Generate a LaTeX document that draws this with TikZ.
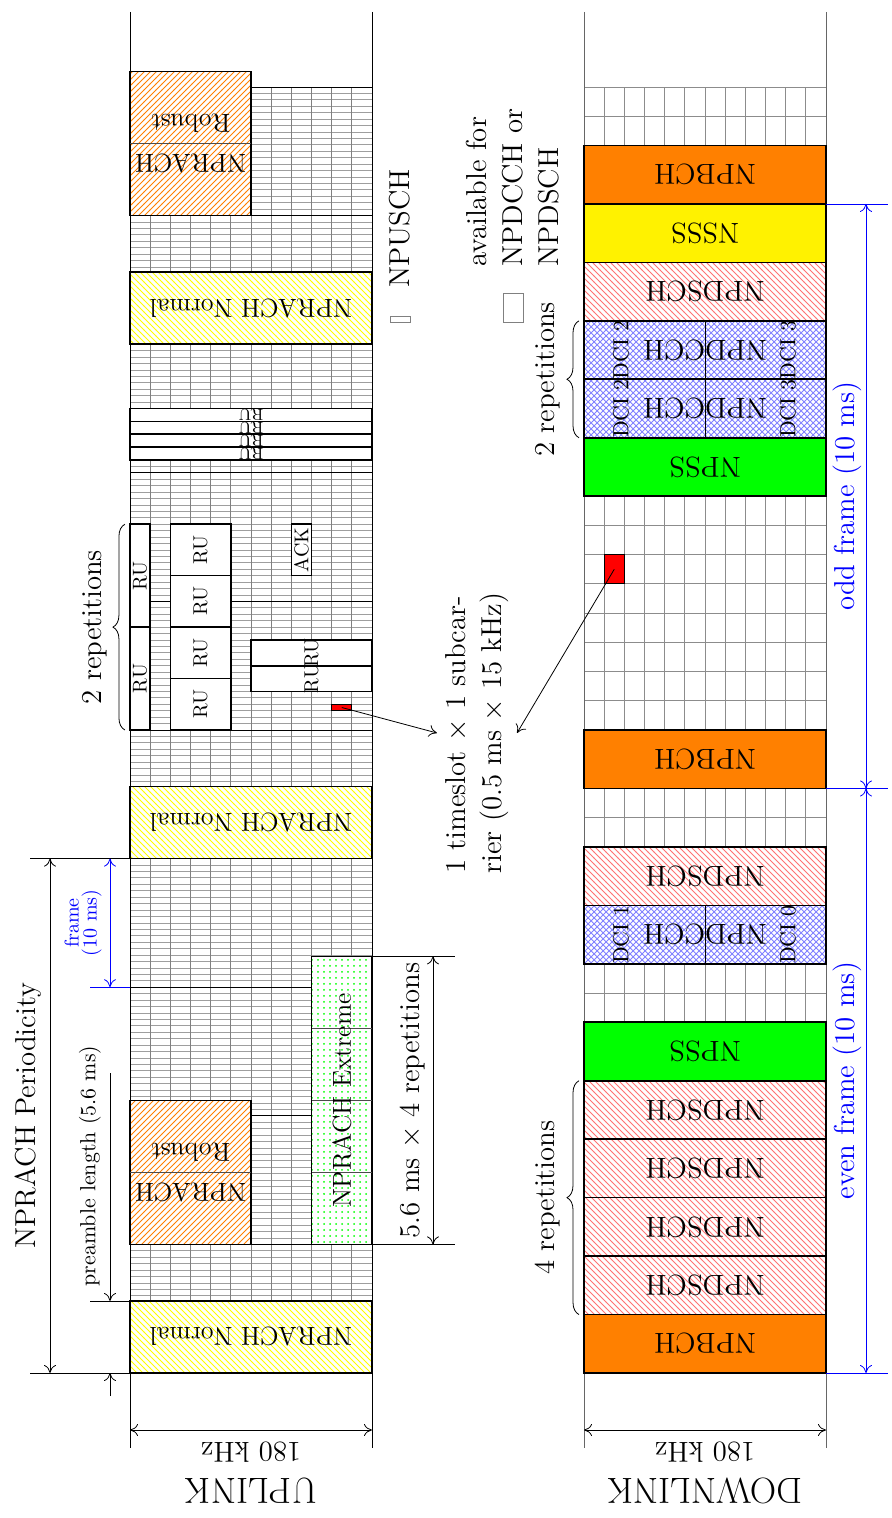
\documentclass[12pt,tikz,border=0pt]{standalone}
\usetikzlibrary{arrows.meta, patterns, decorations.pathreplacing}

% uplink: 12 subcarriers x 100 ms, downlink: 12 subcarriers x 44 slots
\newcommand{\ulX}[1]{{130+20.1667*(#1)}}
\newcommand{\ulT}[1]{{1373-12.86*(#1)}}
\newcommand{\dlX}[1]{{584+20.1667*(#1)}}
\newcommand{\dlT}[1]{{1373-29.227*(#1)}}

\begin{document}
\begin{tikzpicture}[x=0.5pt, y=-0.5pt,
    >={Computer Modern Rightarrow[length=4pt, width=6pt]},
    ulgrid/.style={black!50},
    ulfine/.style={black!38},
    dlgrid/.style={black!45},
    chan/.style={draw, thick},
    hatched/.style={chan, preaction={fill=white}},
    normalpr/.style={hatched, pattern=north west lines, pattern color=yellow},
    robustpr/.style={hatched, pattern=north east lines, pattern color=orange},
    extremepr/.style={hatched, pattern=dots, pattern color=green},
    prlabel/.style={font=\fontsize{13}{16}\selectfont},
    rubox/.style={chan, fill=white},
    rulabel/.style={font=\footnotesize, inner sep=0pt},
    pbch/.style={chan, fill=orange},
    pss/.style={chan, fill=green},
    sss/.style={chan, fill=yellow},
    pdsch/.style={hatched, pattern=north west lines, pattern color=red!55},
    pdcch/.style={hatched, pattern=crosshatch, pattern color=blue!50},
    redcell/.style={draw, fill=red},
    dci/.style={font=\small, inner sep=0pt},
    title/.style={rotate=180, font=\fontsize{18.2}{22}\selectfont},
    flip/.style={rotate=180},
    vert/.style={rotate=90},
    curly/.style={decorate, decoration={brace, amplitude=6pt}},
  ]
\useasboundingbox (0,0) rectangle (891,1518);

% ---------- uplink ----------
\foreach \tm in {0.5,1,...,99.5}
  \draw[ulfine] (\ulX{0},\ulT{\tm}) -- (\ulX{12},\ulT{\tm});
\foreach \col in {1,...,11}
  \draw[ulgrid] (\ulX{\col},\ulT{0}) -- (\ulX{\col},\ulT{100});
\foreach \fr in {0,10,...,100}
  \draw (\ulX{0},\ulT{\fr}) -- (\ulX{12},\ulT{\fr});
\draw (\ulX{0},12) -- (\ulX{0},1448);
\draw (\ulX{12},12) -- (\ulX{12},1448);

% NPRACH
\foreach \tm/\nm in {0/norA,40/norB,80/norC} {
  \draw[normalpr] (\ulX{0},\ulT{\tm}) rectangle (\ulX{12},\ulT{\tm+5.6});
  \node[flip, prlabel] (\nm) at (\ulX{6},\ulT{\tm+2.8}) {NPRACH Normal};
}
\foreach \tm/\nm in {10/robA,90/robB} {
  \draw[robustpr] (\ulX{0},\ulT{\tm}) rectangle (\ulX{6},\ulT{\tm+11.2});
  \draw[black!70] (\ulX{0},\ulT{\tm+5.6}) -- (\ulX{6},\ulT{\tm+5.6});
  \node[flip, prlabel, align=center] (\nm) at (\ulX{3},\ulT{\tm+5.6}) {NPRACH\\[4pt]Robust};
}
\draw[extremepr] (\ulX{9},\ulT{10}) rectangle (\ulX{12},\ulT{32.4});
\foreach \tm in {15.6,21.2,26.8}
  \draw[black!70] (\ulX{9},\ulT{\tm}) -- (\ulX{12},\ulT{\tm});
\node[vert, prlabel] (ext) at (\ulX{10.5},\ulT{21.2}) {NPRACH Extreme};

% resource units
\foreach \tm/\nm in {71/A,72/B,73/C,74/D} {
  \draw[rubox] (\ulX{0},\ulT{\tm}) rectangle (\ulX{12},\ulT{\tm+1});
  \node[flip, font=\scriptsize, inner sep=0pt] (ruW\nm) at (\ulX{6},\ulT{\tm+0.5}) {RU};
}
\foreach \tm/\nm in {50/A,58/B} {
  \draw[rubox] (\ulX{0},\ulT{\tm}) rectangle (\ulX{1},\ulT{\tm+8});
  \node[vert, rulabel] (ruN\nm) at (\ulX{0.5},\ulT{\tm+4}) {RU};
}
\foreach \tm/\nm in {50/A,54/B,58/C,62/D} {
  \draw[rubox] (\ulX{2},\ulT{\tm}) rectangle (\ulX{5},\ulT{\tm+4});
  \node[vert, rulabel] (ruM\nm) at (\ulX{3.5},\ulT{\tm+2}) {RU};
}
\foreach \tm/\nm in {53/A,55/B} {
  \draw[rubox] (\ulX{6},\ulT{\tm}) rectangle (\ulX{12},\ulT{\tm+2});
  \node[vert, rulabel] (ruS\nm) at (\ulX{9},\ulT{\tm+1}) {RU};
}
\draw[rubox] (\ulX{8},\ulT{62}) rectangle (\ulX{9},\ulT{66});
\node[vert, rulabel] (ack) at (\ulX{8.5},\ulT{64}) {ACK};
\draw[redcell] (\ulX{10},\ulT{51.5}) rectangle (\ulX{11},\ulT{52});
\coordinate (ulred) at (\ulX{10.5},\ulT{51.75});

\draw[curly] (\ulX{-0.25},\ulT{50}) -- (\ulX{-0.25},\ulT{66});
\node[vert, font=\large] (ulrep) at (95,\ulT{58}) {2 repetitions};

% dimensions on the left
\coordinate (perA) at (50,\ulT{0});
\coordinate (perB) at (50,\ulT{40});
\draw (30,\ulT{0}) -- (\ulX{0},\ulT{0});
\draw (30,\ulT{40}) -- (\ulX{0},\ulT{40});
\draw[<->] (perA) -- (perB)
  node[midway, vert, anchor=south, font=\large] (per) {NPRACH Periodicity};

\coordinate (frA) at (110,\ulT{40});
\coordinate (frB) at (110,\ulT{30});
\draw[blue] (90,\ulT{30}) -- (\ulX{0},\ulT{30});
\draw[<->, blue] (frA) -- (frB)
  node[midway, vert, anchor=south, font=\footnotesize, align=center] (fr) {frame\\[-3pt](10 ms)};

\coordinate (preA) at (110,1073);
\coordinate (preB) at (110,\ulT{5.6});
\coordinate (preC) at (110,1396);
\coordinate (preD) at (110,\ulT{0});
\draw (90,\ulT{5.6}) -- (\ulX{0},\ulT{5.6});
\draw[->] (preA) -- (preB);
\draw[->] (preC) -- (preD);
\node[vert, font=\small] (pre) at (90,1166) {preamble length (5.6 ms)};

% dimension on the right
\coordinate (exA) at (433,\ulT{10});
\coordinate (exB) at (433,\ulT{32.4});
\draw (\ulX{12},\ulT{10}) -- (455,\ulT{10});
\draw (\ulX{12},\ulT{32.4}) -- (455,\ulT{32.4});
\draw[<->] (exA) -- (exB)
  node[midway, vert, anchor=south, font=\large] (exdim) {5.6 ms $\times$ 4 repetitions};

% bandwidth and title
\coordinate (ulbwA) at (\ulX{0},1430);
\coordinate (ulbwB) at (\ulX{12},1430);
\draw[<->] (ulbwA) -- (ulbwB);
\node[flip, font=\large] (ulbw) at (\ulX{6},1452) {180 kHz};
\node[title] (ul) at (\ulX{6},1491) {UPLINK};

% legend
\draw[black!50] (390,316) rectangle (410,322.5);
\node[vert, anchor=west, font=\large, inner sep=0pt] (npusch) at (400,288) {NPUSCH};

% ---------- downlink ----------
\foreach \col in {1,...,11}
  \draw[dlgrid] (\dlX{\col},\dlT{0}) -- (\dlX{\col},\dlT{44});
\foreach \sl in {0,...,44}
  \draw[dlgrid] (\dlX{0},\dlT{\sl}) -- (\dlX{12},\dlT{\sl});
\draw[black!60] (\dlX{0},12) -- (\dlX{0},1448);
\draw[black!60] (\dlX{12},12) -- (\dlX{12},1448);

\foreach \sl/\sty/\txt in {0/pbch/NPBCH, 2/pdsch/NPDSCH, 4/pdsch/NPDSCH, 6/pdsch/NPDSCH,
    8/pdsch/NPDSCH, 10/pss/NPSS, 16/pdsch/NPDSCH, 20/pbch/NPBCH, 30/pss/NPSS,
    36/pdsch/NPDSCH, 38/sss/NSSS, 40/pbch/NPBCH} {
  \draw[\sty] (\dlX{0},\dlT{\sl}) rectangle (\dlX{12},\dlT{\sl+2});
  \node[flip, font=\large] (sf\sl) at (\dlX{6},\dlT{\sl+1}) {\txt};
}
\foreach \sl/\lft/\rgt in {14/1/0, 32/2/3, 34/2/3} {
  \draw[pdcch] (\dlX{0},\dlT{\sl}) rectangle (\dlX{12},\dlT{\sl+2});
  \draw (\dlX{6},\dlT{\sl}) -- (\dlX{6},\dlT{\sl+2});
  \node[flip, font=\large] (sf\sl) at (\dlX{6},\dlT{\sl+1}) {NPDCCH};
  \node[vert, dci] (dciL\sl) at (621,\dlT{\sl+1}) {DCI \lft};
  \node[vert, dci] (dciR\sl) at (788,\dlT{\sl+1}) {DCI \rgt};
}
\draw[redcell] (\dlX{1},\dlT{27}) rectangle (\dlX{2},\dlT{28});
\coordinate (dlred) at (\dlX{1.5},\dlT{27.5});

\draw[curly] (579,\dlT{32}) -- (579,\dlT{36});
\node[vert, font=\large] (dlrepA) at (548,\dlT{34}) {2 repetitions};
\draw[curly] (579,\dlT{2}) -- (579,\dlT{10});
\node[vert, font=\large] (dlrepB) at (548,\dlT{6}) {4 repetitions};

% legend
\draw[black!50] (503.5,293.5) rectangle (523.5,322.7);
\node[vert, anchor=west, font=\large, align=left, inner sep=0pt] (avail) at (513,267)
  {available for\\NPDCCH or\\NPDSCH};

% resource element note
\node[vert, font=\large, align=left] (note) at (477,733)
  {1 timeslot $\times$ 1 subcar-\\rier (0.5 ms $\times$ 15 kHz)};
\draw[->] (ulred) -- (note.north);
\draw[->] (dlred) -- (note.south);

% frames
\foreach \sl in {0,20,40}
  \draw[blue] (\dlX{12},\dlT{\sl}) -- (888,\dlT{\sl});
\coordinate (evA) at (866,\dlT{0});
\coordinate (evB) at (866,\dlT{20});
\coordinate (odB) at (866,\dlT{40});
\draw[<->, blue] (evA) -- (evB)
  node[midway, vert, anchor=south, inner sep=2pt, font=\large] (even) {even frame (10 ms)};
\draw[<->, blue] (evB) -- (odB)
  node[midway, vert, anchor=south, inner sep=2pt, font=\large] (odd) {odd frame (10 ms)};

% bandwidth and title
\coordinate (dlbwA) at (\dlX{0},1430);
\coordinate (dlbwB) at (\dlX{12},1430);
\draw[<->] (dlbwA) -- (dlbwB);
\node[flip, font=\large] (dlbw) at (\dlX{6},1452) {180 kHz};
\node[title] (dl) at (\dlX{6},1491) {DOWNLINK};
\end{tikzpicture}
\end{document}
